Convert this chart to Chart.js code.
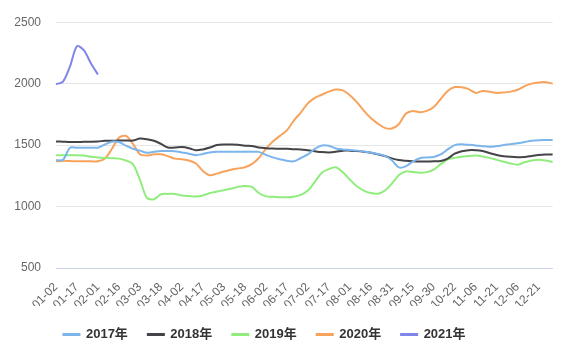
<!DOCTYPE html>
<html>
<head>
<meta charset="utf-8">
<script src="https://cdn.jsdelivr.net/npm/chart.js@4.4.0/dist/chart.umd.min.js"></script>
<style>
  html, body { margin: 0; padding: 0; background: #fff; }
  #wrap { width: 561px; height: 349px; }
</style>
</head>
<body>
<div id="wrap"><canvas id="myChart"></canvas></div>
<script>
// dates (roughly every 5 days), one tick label every 3rd
const dates = [
  "01-02","01-07","01-12","01-17","01-22","01-27","02-01","02-06","02-11","02-16",
  "02-21","02-26","03-03","03-08","03-13","03-18","03-23","03-28","04-02","04-07",
  "04-12","04-17","04-22","04-27","05-03","05-08","05-13","05-18","05-23","05-28",
  "06-02","06-07","06-12","06-17","06-22","06-27","07-02","07-07","07-12","07-17",
  "07-22","07-27","08-01","08-06","08-11","08-16","08-21","08-26","08-31","09-05",
  "09-10","09-15","09-20","09-25","09-30","10-12","10-17","10-22","10-27","11-01",
  "11-06","11-11","11-16","11-21","11-26","12-01","12-06","12-11","12-16","12-21",
  "12-26","12-31"
];

const y2017 = [
  1377,1380,1479,1479,1479,1479,1479,1505,1528,1525,
  1495,1470,1455,1437,1445,1451,1451,1450,1440,1430,
  1418,1428,1440,1445,1445,1445,1445,1445,1445,1445,
  1420,1400,1385,1372,1368,1395,1424,1470,1497,1495,
  1473,1465,1460,1455,1448,1440,1428,1412,1377,1319,
  1327,1365,1393,1400,1404,1424,1465,1500,1506,1502,
  1497,1490,1487,1492,1500,1508,1515,1525,1535,1540,
  1541,1541
];
const y2018 = [
  1530,1528,1525,1525,1527,1528,1530,1535,1535,1537,
  1537,1537,1553,1548,1535,1510,1480,1480,1484,1475,
  1458,1465,1480,1500,1505,1505,1503,1495,1492,1480,
  1475,1472,1470,1470,1466,1465,1458,1450,1443,1440,
  1445,1455,1455,1451,1445,1437,1425,1412,1392,1378,
  1372,1368,1366,1366,1368,1371,1390,1430,1450,1459,
  1459,1452,1435,1420,1410,1405,1402,1403,1412,1420,
  1424,1424
];
const y2019 = [
  1418,1418,1418,1418,1415,1405,1400,1396,1393,1390,
  1375,1345,1218,1070,1060,1100,1103,1103,1090,1085,
  1081,1090,1110,1122,1133,1145,1160,1168,1160,1110,
  1083,1080,1076,1076,1080,1095,1130,1200,1275,1305,
  1319,1280,1220,1165,1130,1110,1105,1130,1185,1255,
  1286,1281,1275,1280,1300,1345,1385,1396,1405,1412,
  1415,1408,1396,1380,1365,1350,1341,1360,1374,1380,
  1375,1363
];
const y2020 = [
  1368,1372,1370,1368,1368,1368,1368,1390,1470,1560,
  1575,1510,1425,1415,1425,1425,1410,1390,1384,1375,
  1350,1290,1255,1268,1285,1300,1310,1320,1345,1395,
  1470,1530,1575,1620,1700,1765,1840,1885,1910,1935,
  1952,1945,1905,1850,1780,1720,1675,1640,1635,1670,
  1755,1778,1768,1778,1810,1875,1940,1972,1970,1955,
  1925,1940,1935,1925,1928,1935,1950,1980,2000,2010,
  2012,2000
];
const y2021 = [1995,2016,2140,2305,2270,2164,2074];

const seriesNames = ["2017年","2018年","2019年","2020年","2021年"];
const seriesColors = ["#7cb5ec","#434348","#90ed7d","#f7a35c","#8085e9"];
const yTicks = [500, 1000, 1500, 2000, 2500];

const allData = [y2017, y2018, y2019, y2020, y2021];

const datasets = seriesNames.map((name, i) => {
  return {
    label: name,
    data: allData[i],
    borderColor: seriesColors[i],
    backgroundColor: seriesColors[i],
    borderWidth: 2,
    pointRadius: 0,
    tension: 0.3,
    fill: false,
  };
});

// nudge the legend a bit left and down, like the original
const legendShift = {
  id: "legendShift",
  afterLayout(chart) {
    const lg = chart.legend;
    lg.left -= 13;
    lg.right -= 13;
    lg.top += 2;
    lg.bottom += 2;
  },
};

const ctx = document.getElementById("myChart").getContext("2d");
new Chart(ctx, {
  type: "line",
  data: { labels: dates, datasets: datasets },
  plugins: [legendShift],
  options: {
    responsive: true,
    maintainAspectRatio: false,
    animation: false,
    layout: { padding: { left: 0, right: 6, top: 21, bottom: 0 } },
    font: { family: "'Liberation Sans', 'Noto Sans CJK SC', sans-serif" },
    plugins: {
      tooltip: { enabled: false },
      legend: {
        position: "bottom",
        labels: {
          boxWidth: 16,
          boxHeight: 1,
          padding: 20,
          color: "#333",
          font: { size: 13, weight: "bold", family: "'Liberation Sans', 'Noto Sans CJK SC', sans-serif" },
        },
      },
    },
    scales: {
      x: {
        grid: { display: false, drawTicks: false },
        border: { color: "#ccd6eb" },
        ticks: {
          autoSkip: false,
          minRotation: 45,
          maxRotation: 45,
          padding: 12,
          color: "#666",
          font: { size: 12, family: "'Liberation Sans', sans-serif" },
          callback: (v, i) => (i % 3 === 0 ? dates[i] : null),
        },
        afterFit: (scale) => { scale.height = 38; },
      },
      y: {
        min: yTicks[0],
        max: yTicks[yTicks.length - 1],
        grid: { color: "#e6e6e6", drawTicks: false },
        border: { display: false },
        ticks: {
          stepSize: 500,
          padding: 15,
          color: "#666",
          font: { size: 12, family: "'Liberation Sans', sans-serif" },
          callback: (v) => String(v),
        },
        afterFit: (scale) => { scale.width = 56; },
      },
    },
  },
});
</script>
</body>
</html>
